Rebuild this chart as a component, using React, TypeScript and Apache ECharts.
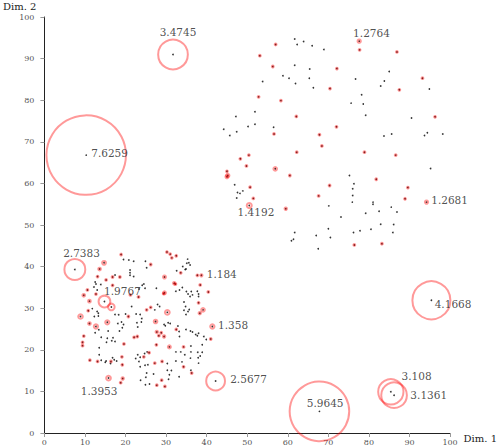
import React, { useEffect, useRef } from "react";
import * as echarts from "echarts";

// Axis ticks (0..100 step 10)
const xTicks = [0, 10, 20, 30, 40, 50, 60, 70, 80, 90, 100];
const yTicks = [0, 10, 20, 30, 40, 50, 60, 70, 80, 90, 100];

// Inlier points (score <= 1, no circle) — upper-right cluster
const upperInliers: number[][] = [
  [61.7, 94.7], [62.3, 93.4], [63.9, 94.1], [66.0, 93.1], [68.9, 92.2], [61.7, 88.4], [65.4, 87.5],
  [58.8, 85.9], [60.3, 85.3], [65.3, 85.3], [53.8, 84.5], [61.9, 84.0], [66.3, 83.0], [76.7, 85.1],
  [85.0, 86.9], [83.8, 84.6], [82.9, 83.4], [94.9, 82.7], [78.2, 81.3], [75.6, 79.3], [78.6, 79.1],
  [79.2, 76.4], [51.9, 77.2], [47.2, 76.1], [51.9, 74.2], [50.2, 73.7], [44.2, 73.0], [47.4, 72.4],
  [45.7, 71.5], [56.5, 73.5], [90.5, 75.7], [83.7, 71.4], [85.6, 71.9], [93.7, 71.5], [94.4, 72.2],
  [98.2, 71.9], [95.2, 63.6], [75.2, 61.9], [76.3, 59.9], [76.0, 58.7], [76.0, 57.1], [75.9, 55.5],
  [81.0, 55.5], [81.0, 55.0], [85.5, 54.3], [86.9, 53.1], [82.5, 53.3], [79.2, 52.8], [70.1, 54.6],
  [73.1, 51.9], [46.9, 59.7], [47.6, 57.8], [48.2, 57.6], [48.9, 58.2], [47.4, 56.5], [82.9, 50.2],
  [86.1, 50.1], [85.9, 48.2], [80.5, 49.0], [77.8, 48.6], [76.2, 48.2], [70.0, 49.1], [70.5, 47.0],
  [67.0, 47.5], [61.7, 48.2], [61.4, 46.6], [60.9, 46.2], [67.5, 44.3],
];

// Inlier points — lower-left cluster
const lowerInliers: number[][] = [
  [19.5, 41.7], [20.8, 41.6], [22.0, 41.3], [24.9, 41.3], [25.2, 39.7], [21.1, 39.2], [21.1, 38.5],
  [21.1, 37.9], [22.0, 37.6], [17.4, 38.0], [12.5, 36.3], [12.7, 35.8], [13.9, 35.7], [12.2, 35.1],
  [13.0, 34.4], [23.3, 34.6], [24.1, 35.5], [24.8, 34.8], [24.5, 35.8], [27.6, 34.8], [27.9, 30.9],
  [27.2, 29.6], [28.4, 30.4], [32.6, 39.0], [34.1, 40.0], [35.1, 40.8], [35.6, 40.9], [35.9, 40.4],
  [34.7, 39.3], [35.3, 41.8], [34.9, 39.4], [32.4, 34.1], [33.3, 34.4], [34.0, 35.0], [35.0, 34.0],
  [36.2, 34.0], [37.7, 34.1], [38.0, 33.4], [36.5, 33.2], [35.4, 33.4], [38.0, 32.8], [35.9, 32.8],
  [34.4, 31.5], [34.8, 30.4], [35.4, 29.2], [35.7, 29.7], [34.4, 29.5], [34.9, 28.5], [32.9, 25.7],
  [33.2, 24.4], [33.3, 23.2], [34.9, 24.9], [36.0, 24.5], [37.7, 23.4], [39.3, 23.2], [39.9, 22.5],
  [36.5, 24.3], [37.3, 23.7], [38.0, 24.0], [38.9, 21.2], [36.1, 20.9], [36.1, 19.5], [37.8, 19.4],
  [38.9, 19.4], [38.4, 18.5], [38.0, 16.8], [34.6, 18.8], [37.9, 18.1], [36.0, 18.0], [32.4, 17.3],
  [33.9, 17.1], [30.3, 16.7], [36.1, 15.1], [32.4, 19.5], [33.6, 19.5], [30.3, 15.1], [30.8, 14.0],
  [31.3, 15.0], [30.6, 12.9], [33.2, 13.5], [23.0, 18.8], [22.5, 17.9], [23.6, 18.2], [24.7, 19.1],
  [25.3, 19.5], [23.6, 15.9], [24.8, 16.3], [25.5, 16.4], [25.2, 14.4], [23.7, 12.7], [25.0, 13.4],
  [26.9, 14.2], [24.9, 11.6], [25.9, 11.8], [23.3, 17.2], [21.5, 30.4], [22.6, 28.6], [23.6, 28.5],
  [24.0, 27.5], [23.9, 26.7], [23.0, 25.5], [22.8, 26.5], [17.4, 28.5], [19.0, 26.7], [19.2, 25.3],
  [18.5, 24.5], [19.5, 26.1], [18.1, 26.3], [18.3, 28.4], [20.0, 28.6], [15.7, 24.5], [14.0, 23.0],
  [13.5, 20.5], [13.5, 18.8], [14.0, 17.5], [15.2, 17.3], [16.8, 18.1], [16.3, 16.7], [15.5, 22.8],
  [16.6, 22.2], [17.4, 22.0], [15.3, 21.8], [16.9, 22.9], [15.0, 17.0], [17.2, 17.6], [17.8, 17.3],
  [11.8, 29.9], [13.0, 29.2], [13.3, 28.8], [13.3, 28.1], [12.3, 28.0], [13.4, 24.8], [12.5, 24.1],
  [29.5, 26.1], [30.5, 26.5], [31.0, 26.3], [29.8, 25.8],
];

// Points with score > 1 (circled), unlabeled — upper cluster [x, y, score]
const upperScored: number[][] = [
  [77.7, 92.1, 1.12], [86.9, 91.6, 1.08], [57.0, 93.4, 1.05], [53.1, 90.7, 1.12], [56.3, 88.1, 1.06],
  [72.1, 87.6, 1.1], [93.2, 85.3, 1.08], [87.5, 82.5, 1.06], [70.4, 82.8, 1.08], [52.8, 80.8, 1.06],
  [58.3, 79.9, 1.1], [62.1, 76.1, 1.1], [96.3, 76.0, 1.06], [72.0, 73.6, 1.12], [56.6, 71.9, 1.05],
  [67.8, 71.7, 1.06], [68.4, 69.0, 1.08], [62.2, 67.5, 1.08], [78.9, 67.5, 1.06], [86.6, 66.8, 1.06],
  [48.3, 65.9, 1.08], [50.4, 66.8, 1.06], [49.8, 64.2, 1.12], [56.9, 63.5, 1.3], [45.0, 62.9, 1.1],
  [45.2, 61.9, 1.28], [45.0, 61.6, 1.25], [60.5, 61.9, 1.06], [50.7, 59.1, 1.08], [70.3, 59.5, 1.05],
  [81.8, 61.0, 1.12], [89.6, 59.0, 1.12], [88.9, 56.3, 1.06], [51.5, 56.4, 1.12], [67.6, 57.0, 1.12],
  [59.5, 53.9, 1.2], [76.4, 45.2, 1.05], [83.2, 45.5, 1.05],
];

// Points with score > 1 (circled), unlabeled — lower cluster [x, y, score]
const lowerScored: number[][] = [
  [18.9, 42.9, 1.08], [26.2, 40.5, 1.08], [30.2, 43.5, 1.1], [31.0, 43.0, 1.12], [31.4, 42.1, 1.1],
  [32.5, 42.6, 1.08], [33.6, 38.5, 1.06], [14.7, 40.9, 1.32], [13.6, 39.4, 1.22], [13.1, 37.6, 1.08],
  [15.2, 36.8, 1.06], [16.8, 37.5, 1.08], [18.6, 37.5, 1.06], [16.8, 35.5, 1.06], [10.6, 34.4, 1.08],
  [9.7, 33.1, 1.22], [12.7, 33.4, 1.06], [21.2, 33.2, 1.08], [23.2, 32.7, 1.06], [11.1, 31.7, 1.22],
  [16.5, 30.3, 1.55], [10.8, 29.4, 1.1], [8.9, 28.0, 1.38], [11.1, 26.3, 1.22], [12.7, 25.6, 1.35],
  [15.5, 26.6, 1.35], [9.7, 23.3, 1.08], [9.4, 21.8, 1.08], [9.4, 21.0, 1.1], [11.2, 17.5, 1.15],
  [13.1, 17.2, 1.06], [16.4, 17.2, 1.06], [19.1, 18.3, 1.06], [19.2, 16.4, 1.08], [19.6, 21.4, 1.1],
  [18.8, 12.1, 1.15], [19.3, 13.1, 1.2], [22.1, 23.0, 1.1], [22.9, 23.2, 1.15], [20.7, 28.0, 1.08],
  [25.2, 29.6, 1.08], [26.2, 30.2, 1.06], [27.4, 26.8, 1.3], [27.7, 24.3, 1.2], [28.2, 23.4, 1.1],
  [28.8, 24.1, 1.15], [29.5, 23.2, 1.2], [27.6, 21.2, 1.08], [29.0, 17.2, 1.1], [27.2, 16.8, 1.06],
  [25.8, 19.3, 1.08], [24.5, 18.3, 1.06], [27.7, 11.5, 1.08], [29.7, 11.2, 1.06], [28.9, 12.7, 1.05],
  [29.6, 37.5, 1.25], [29.6, 33.7, 1.25], [29.4, 33.5, 1.1], [30.3, 29.0, 1.4], [32.0, 36.0, 1.2],
  [32.3, 35.8, 1.08], [30.8, 20.7, 1.25], [32.5, 24.9, 1.06], [34.3, 20.7, 1.08], [34.3, 15.9, 1.06],
  [36.3, 14.4, 1.08], [37.7, 37.9, 1.08], [38.4, 35.6, 1.1], [38.0, 31.3, 1.06], [38.3, 28.8, 1.2],
  [39.1, 29.6, 1.3], [40.4, 33.9, 1.15], [41.0, 22.6, 1.06],
];

// Labeled points [x, y, score]
const labeledPoints: number[][] = [
  [31.7, 91.0, 3.4745], [10.3, 66.8, 7.6259], [7.5, 39.3, 2.7383], [14.8, 31.6, 1.9767],
  [38.7, 37.9, 1.184], [41.4, 25.6, 1.358], [15.8, 13.2, 1.3953], [42.2, 12.5, 2.5677],
  [67.8, 5.2, 5.9645], [95.4, 31.9, 4.1668], [85.4, 9.9, 3.108], [86.2, 9.1, 3.1361],
  [77.6, 94.2, 1.2764], [94.2, 55.5, 1.2681], [50.5, 54.7, 1.4192],
];

// Label layout (align, offset x, offset y in px), same order as labeledPoints
const labelLayout: [string, number, number][] = [
  ["center", 5, -22], ["left", 5, -2], ["center", 6.7, -17], ["center", 18, -10.7],
  ["left", 5.3, -1.6], ["left", 5.7, -1.6], ["center", -9.4, 12.7], ["left", 14.6, -1.7],
  ["center", 5.7, -8.3], ["left", 3.3, 3.7], ["left", 10.7, -16.3], ["left", 16.3, -0.6],
  ["center", 12.3, -8.3], ["left", 4.7, -2], ["center", 6.7, 6.7],
];

const FONT = "'DejaVu Serif', serif";
const RING = "rgba(255,0,0,0.5)";
const RING_SCALE = 12.0;

export default function App() {
  const ref = useRef<HTMLDivElement>(null);
  useEffect(() => {
    if (!ref.current) return;
    const chart = echarts.init(ref.current, undefined, { renderer: "svg" });
    const scored = [...upperScored, ...lowerScored, ...labeledPoints];
    const dots = [...upperInliers, ...lowerInliers, ...scored.map((p) => [p[0], p[1]])];
    const axisCommon = {
      type: "value" as const,
      min: xTicks[0],
      max: xTicks[xTicks.length - 1],
      interval: xTicks[1] - xTicks[0],
      splitLine: { show: false },
      axisLine: { show: true, onZero: false, lineStyle: { color: "#222", width: 1 } },
      axisTick: { show: true, length: 4, lineStyle: { color: "#999" } },
    };
    chart.setOption({
      animation: false,
      grid: { left: 42, right: 42, top: 17, bottom: 14, containLabel: false },
      xAxis: {
        ...axisCommon,
        name: "Dim. 1",
        nameLocation: "end",
        nameGap: 9,
        nameTextStyle: { fontFamily: FONT, fontSize: 10, color: "#222", verticalAlign: "top" },
        axisLabel: { fontFamily: FONT, fontSize: 8, color: "#555", margin: 5 },
      },
      yAxis: {
        ...axisCommon,
        min: yTicks[0],
        max: yTicks[yTicks.length - 1],
        interval: yTicks[1] - yTicks[0],
        name: "Dim. 2",
        nameLocation: "end",
        nameGap: 11,
        nameTextStyle: {
          fontFamily: FONT, fontSize: 10, color: "#222",
          align: "right", verticalAlign: "middle", padding: [0, 8, 0, 0],
        },
        axisLabel: { fontFamily: FONT, fontSize: 8, color: "#555", margin: 10 },
      },
      series: [
        {
          type: "scatter",
          data: dots,
          symbol: "circle",
          symbolSize: 1.7,
          itemStyle: { color: "#000" },
          silent: true,
          z: 2,
        },
        {
          type: "scatter",
          data: scored,
          symbol: "circle",
          symbolSize: (v: number[]) => Math.max(1.8, RING_SCALE * (v[2] - 1)),
          itemStyle: { color: "rgba(0,0,0,0)", borderColor: RING, borderWidth: 2 },
          silent: true,
          z: 3,
        },
        {
          type: "scatter",
          data: labeledPoints.map((p, i) => ({
            value: p,
            label: { align: labelLayout[i][0], offset: [labelLayout[i][1], labelLayout[i][2]] },
          })),
          symbol: "circle",
          symbolSize: 1,
          itemStyle: { color: "rgba(0,0,0,0)" },
          label: {
            show: true,
            position: "inside",
            verticalAlign: "middle",
            fontFamily: FONT,
            fontSize: 10.5,
            color: "#222",
            formatter: (p: any) => String(p.value[2]),
          },
          silent: true,
          z: 4,
        },
      ],
    });
    return () => chart.dispose();
  }, []);
  return (
    <div
      ref={ref}
      style={{ position: "fixed", left: 0, top: 0, width: 500, height: 447, background: "#fff" }}
    />
  );
}
